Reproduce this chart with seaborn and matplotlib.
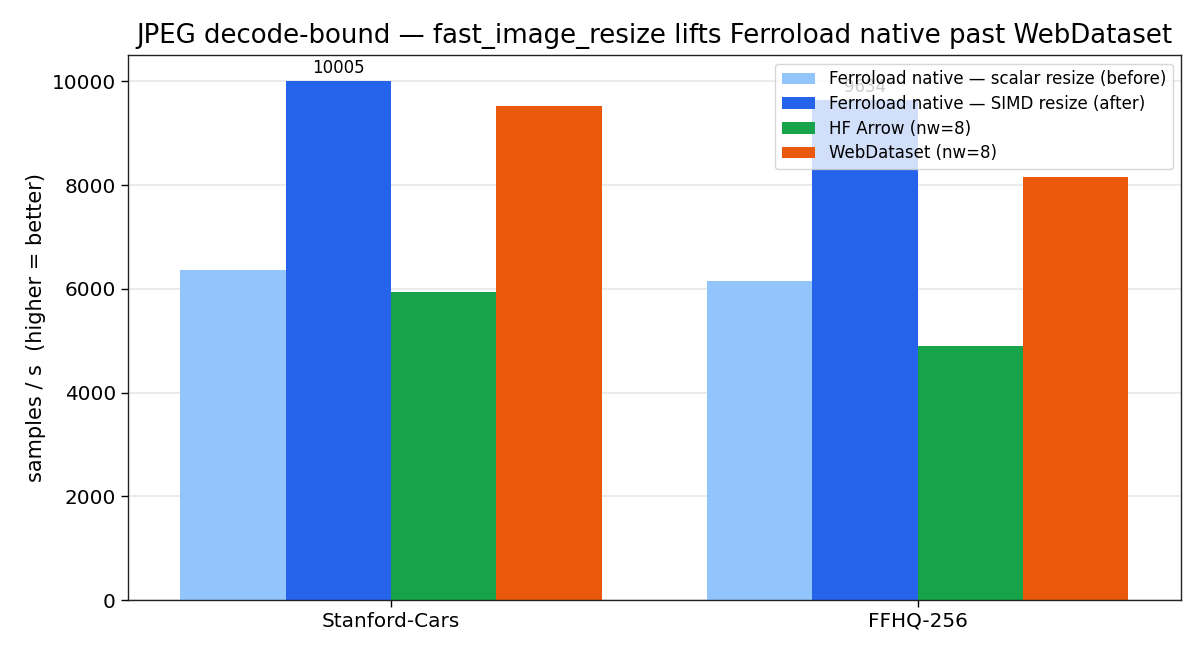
import pandas as pd
import matplotlib
matplotlib.use("Agg")
import matplotlib.pyplot as plt
import seaborn as sns

# Values
datasets = ["Stanford-Cars", "FFHQ-256"]
loaders = [
    "Ferroload native — scalar resize (before)",
    "Ferroload native — SIMD resize (after)",
    "HF Arrow (nw=8)",
    "WebDataset (nw=8)",
]
scalar_before = [6370, 6155]
simd_after = [10005, 9634]
hf_arrow = [5945, 4900]
webdataset = [9535, 8165]
colors = ["#93c5fd", "#2563eb", "#16a34a", "#ea580c"]

rows = []
for name, vals in zip(loaders, [scalar_before, simd_after, hf_arrow, webdataset]):
    for ds, v in zip(datasets, vals):
        rows.append({"dataset": ds, "loader": name, "value": v})
df = pd.DataFrame(rows)

plt.rcParams["font.family"] = ["DejaVu Sans"]

fig, ax = plt.subplots(figsize=(12.04, 6.58), dpi=100)
sns.barplot(data=df, x="dataset", y="value", hue="loader", hue_order=loaders,
            palette=colors, saturation=1, width=0.8, ax=ax, errorbar=None,
            linewidth=0)

# label only the SIMD bars
ax.bar_label(ax.containers[1], fmt="%d", padding=3, fontsize=12)

ax.set_ylim(0, 10505)
ax.set_xlim(-0.5, 1.5)
ax.yaxis.grid(True, color="#e8e8e8", linewidth=1.2)
ax.set_axisbelow(True)
for s in ax.spines.values():
    s.set_linewidth(1.0)
    s.set_color("#222222")
ax.tick_params(axis="both", labelsize=14.4, length=5, width=1.0)
ax.set_xlabel("")
ax.set_ylabel("samples / s  (higher = better)", fontsize=15)
ax.set_title("JPEG decode-bound — fast_image_resize lifts Ferroload native past WebDataset",
             fontsize=18.7, pad=9)
ax.legend(loc="upper right", fontsize=12, framealpha=0.8, labelspacing=0.4)

plt.subplots_adjust(left=0.106, right=0.981, top=0.916, bottom=0.088)
plt.savefig("out.png", dpi=100)
